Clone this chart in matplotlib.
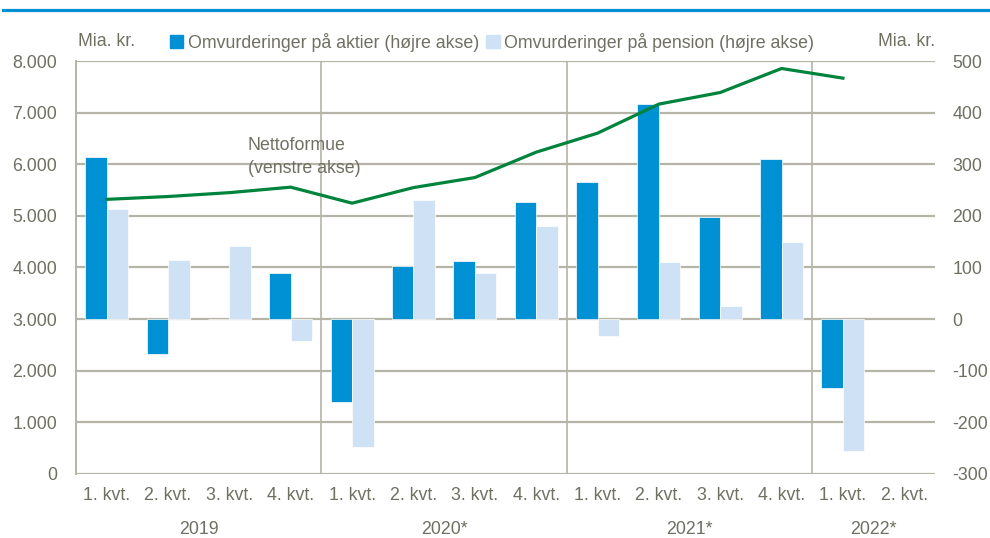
import numpy as np
import matplotlib.pyplot as plt
from matplotlib.lines import Line2D
from matplotlib.patches import Patch

plt.rcParams['font.family'] = ['Liberation Sans', 'DejaVu Sans']

# data (mia. kr.)
quarters = ['1. kvt.', '2. kvt.', '3. kvt.', '4. kvt.'] * 3 + ['1. kvt.', '2. kvt.']
years = ['2019', '2020*', '2021*', '2022*']
year_len = [4, 4, 4, 2]
aktier = [315, -67, 1, 90, -161, 103, 113, 226, 266, 416, 197, 310, -134, np.nan]
pension = [214, 115, 141, -42, -248, 231, 90, 180, -33, 110, 25, 149, -255, np.nan]
nettoformue = [5320, 5375, 5450, 5556, 5246, 5548, 5742, 6234, 6602, 7165, 7390, 7855, 7668, np.nan]

c_akt = '#0090d4'
c_pen = '#cfe2f5'
c_line = '#00843d'
c_grid = '#b6b3a7'
c_txt = '#6f6f62'
fs = 12.8

fig = plt.figure(figsize=(9.9, 5.38), dpi=100)
ax = fig.add_axes([0.0768, 0.119, 0.8676, 0.7676])
x = np.arange(len(quarters))
w = 0.35

ax.bar(x - w / 2, aktier, w, color=c_akt, edgecolor='white', linewidth=0.5, zorder=3)
ax.bar(x + w / 2, pension, w, color=c_pen, edgecolor='white', linewidth=0.5, zorder=3)
ax.set_ylim(-300, 500)
ax.set_xlim(-0.5, len(quarters) - 0.5)
rt = np.arange(-300, 501, 100)
for v in rt:
    ax.axhline(v, color=c_grid, lw=1.6, zorder=1)

# year separators
b = 0
for n in year_len[:-1]:
    b += n
    ax.axvline(b - 0.5, color=c_grid, lw=1.2, zorder=1)

ax.set_xticks([])
for s in ['top', 'right', 'bottom']:
    ax.spines[s].set_visible(False)
ax.spines['left'].set_color(c_grid)
ax.spines['left'].set_linewidth(1.4)

tr = ax.get_xaxis_transform()
for i, q in enumerate(quarters):
    ax.text(i, -0.052, q, transform=tr, ha='center', va='center', fontsize=fs, color=c_txt)
b = 0
for yr, n in zip(years, year_len):
    ax.text(b + n / 2 - 0.5, -0.134, yr, transform=tr, ha='center', va='center',
            fontsize=fs, color=c_txt)
    b += n

ax2 = ax.twinx()
ax2.plot(x, nettoformue, color=c_line, lw=2.3, zorder=4)
ax2.set_ylim(0, 8000)
lt = np.arange(0, 8001, 1000)
ax2.set_yticks(lt)
ax2.set_yticklabels([f'{v:,}'.replace(',', '.') for v in lt])
for s in ax2.spines.values():
    s.set_visible(False)

# bars on the right scale, line on the left scale
ax.yaxis.tick_right()
ax.set_yticks(rt)
ax.set_yticklabels([str(v) for v in rt])
ax.tick_params(axis='y', length=0, pad=12.5, labelsize=fs, colors=c_txt)
ax2.yaxis.tick_left()
ax2.tick_params(axis='y', length=0, pad=13.5, labelsize=fs, colors=c_txt)

ax2.text(2.3, 6140, 'Nettoformue\n(venstre akse)', fontsize=fs, color=c_txt,
         ha='left', va='center', linespacing=1.45)

fig.text(78 / 990, 1 - 42 / 538, 'Mia. kr.', fontsize=fs, color=c_txt, ha='left', va='center')
fig.text(935 / 990, 1 - 42 / 538, 'Mia. kr.', fontsize=fs, color=c_txt, ha='right', va='center')

handles = [Patch(color=c_akt), Patch(color=c_pen)]
fig.legend(handles, ['Omvurderinger på aktier (højre akse)', 'Omvurderinger på pension (højre akse)'],
           loc='center', bbox_to_anchor=(0.497, 1 - 42 / 538), ncol=2, frameon=False,
           handlelength=0.75, handleheight=0.75, handletextpad=0.25, columnspacing=0.4,
           fontsize=fs, labelcolor=c_txt)

fig.add_artist(Line2D([0.003, 1.0], [1 - 10 / 538, 1 - 10 / 538], color='#0090d4', lw=2.3))

fig.savefig('out.png', dpi=100)
